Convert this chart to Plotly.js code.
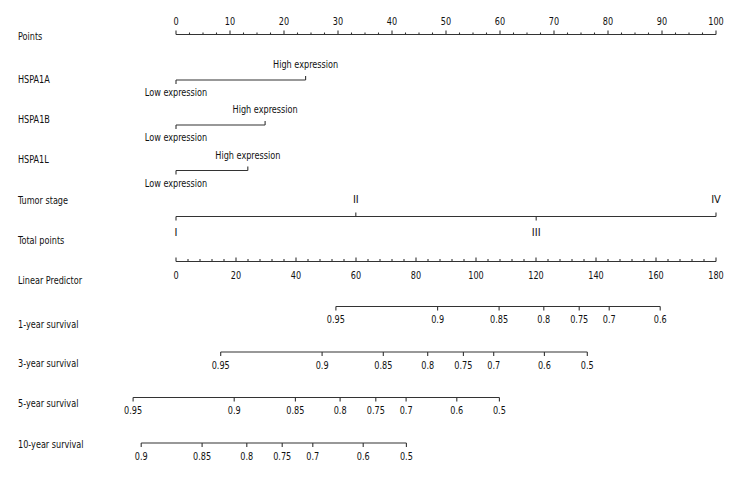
<!DOCTYPE html>
<html>
<head>
<meta charset="utf-8">
<script src="https://cdn.plot.ly/plotly-3.0.1.min.js"></script>
<style>
  html, body { margin: 0; padding: 0; background: #fff; }
  #chart { width: 744px; height: 480px; }
</style>
</head>
<body>
<div id="chart"></div>
<script>
// Nomogram: HSPA1A / HSPA1B / HSPA1L expression + tumor stage -> survival

// --- data ---
const pointsTicks = [0, 10, 20, 30, 40, 50, 60, 70, 80, 90, 100];
const expressionLevels = ['Low expression', 'High expression'];
const hspa1aPoints = [0, 24];
const hspa1bPoints = [0, 16.5];
const hspa1lPoints = [0, 13.3];
const tumorStages = ['I', 'II', 'III', 'IV'];
const tumorPoints = [0, 33.3, 66.7, 100];
const totalTicks = [0, 20, 40, 60, 80, 100, 120, 140, 160, 180];

const surv1Labels = ['0.95', '0.9', '0.85', '0.8', '0.75', '0.7', '0.6'];
const surv1Total = [53.3, 87.2, 107.7, 122.6, 134.4, 144.4, 161.4];
const surv3Labels = ['0.95', '0.9', '0.85', '0.8', '0.75', '0.7', '0.6', '0.5'];
const surv3Total = [14.9, 48.7, 69.1, 83.9, 95.8, 105.9, 122.8, 137.1];
const surv5Labels = ['0.95', '0.9', '0.85', '0.8', '0.75', '0.7', '0.6', '0.5'];
const surv5Total = [-14.3, 19.4, 39.8, 54.7, 66.6, 76.7, 93.6, 107.8];
const surv10Labels = ['0.9', '0.85', '0.8', '0.75', '0.7', '0.6', '0.5'];
const surv10Total = [-11.6, 8.7, 23.6, 35.4, 45.6, 62.4, 76.8];

const rowNames = ['Points', 'HSPA1A', 'HSPA1B', 'HSPA1L', 'Tumor stage', 'Total points',
                  'Linear Predictor', '1-year survival', '3-year survival', '5-year survival', '10-year survival'];

// --- layout constants (pixels) ---
const W = 744, H = 480;
const X0 = 176;                          // pixel of 0 on both scales
const PX_POINT = 5.4, PX_TOTAL = 3;      // pixels per unit
const rowLabelY = [37, 80, 120, 160, 201, 241.5, 281.5, 325, 364.5, 404.5, 445.5];
const axisY = [34.5, 80, 125, 170.5, 216.5, 261.5, 306.5, 352, 397.5, 443];
const LINE = '#333';
const TEXT = '#111';
const FONT = '"DejaVu Sans Condensed", "Liberation Sans Narrow", sans-serif';
const FS = 11;
const SQUEEZE = 0.82;                    // narrow the glyphs toward a condensed face

const traces = [];

function addLine(vals, y, xa) {
    traces.push({
        x: [Math.min(...vals), Math.max(...vals)], y: [y, y],
        xaxis: xa, yaxis: 'y', mode: 'lines', type: 'scatter',
        line: { color: LINE, width: 1.1 }, hoverinfo: 'skip', showlegend: false
    });
}

function addTicks(vals, y, lens, xa) {
    const x = [], yy = [];
    vals.forEach((v, i) => {
        const len = Array.isArray(lens) ? lens[i] : lens;
        x.push(v, v, null);
        yy.push(y, y + len, null);
    });
    traces.push({
        x: x, y: yy, xaxis: xa, yaxis: 'y', mode: 'lines', type: 'scatter',
        line: { color: LINE, width: 1.1 }, hoverinfo: 'skip', showlegend: false
    });
}

function addText(vals, labels, ys, xa, pos) {
    traces.push({
        x: vals, y: Array.isArray(ys) ? ys : vals.map(() => ys),
        text: labels, xaxis: xa, yaxis: 'y', mode: 'text', type: 'scatter',
        textposition: pos || 'middle center',
        textfont: { family: FONT, size: FS, color: TEXT },
        hoverinfo: 'skip', showlegend: false, cliponaxis: false
    });
}

// Points scale
const pointsMinor = [];
for (let i = 0; i < pointsTicks.length - 1; i++) {
    const a = pointsTicks[i], b = pointsTicks[i + 1];
    for (let k = 1; k < 4; k++) pointsMinor.push(a + (b - a) * k / 4);
}
addLine(pointsTicks, axisY[0], 'x');
addTicks(pointsTicks, axisY[0], -4, 'x');
addTicks(pointsMinor, axisY[0], -2, 'x');
addText(pointsTicks, pointsTicks.map(String), axisY[0] - 12, 'x');

// Binary expression variables: low tick/label below, high tick/label above
[hspa1aPoints, hspa1bPoints, hspa1lPoints].forEach((pts, r) => {
    const y = axisY[r + 1];
    addLine(pts, y, 'x');
    addTicks(pts, y, [4, -4], 'x');
    addText(pts, expressionLevels, [y + 13.5, y - 14.5], 'x');
});

// Tumor stage: alternating below/above
{
    const y = axisY[4];
    const dir = tumorPoints.map((_, i) => (i % 2 === 0 ? 1 : -1));
    addLine(tumorPoints, y, 'x');
    addTicks(tumorPoints, y, dir.map(d => d * 4), 'x');
    addText(tumorPoints, tumorStages, dir.map(d => y + d * 16.5), 'x');
}

// Total points scale (ticks up, labels below)
const totalMinor = [];
for (let i = 0; i < totalTicks.length - 1; i++) {
    const a = totalTicks[i], b = totalTicks[i + 1];
    for (let k = 1; k < 5; k++) totalMinor.push(a + (b - a) * k / 5);
}
addLine(totalTicks, axisY[5], 'x2');
addTicks(totalTicks, axisY[5], -4, 'x2');
addTicks(totalMinor, axisY[5], -2.5, 'x2');
addText(totalTicks, totalTicks.map(String), axisY[5] + 15, 'x2');

// Survival scales
[[surv1Total, surv1Labels], [surv3Total, surv3Labels],
 [surv5Total, surv5Labels], [surv10Total, surv10Labels]].forEach(([vals, labs], r) => {
    const y = axisY[r + 6];
    addLine(vals, y, 'x2');
    addTicks(vals, y, 4, 'x2');
    addText(vals, labs, y + 14, 'x2');
});

// Row labels, left aligned at 18px
const labelX = (18 - X0) / PX_POINT;
addText(rowNames.map(() => labelX), rowNames, rowLabelY, 'x', 'middle right');

const layout = {
    width: W, height: H,
    margin: { l: 0, r: 0, t: 0, b: 0 },
    paper_bgcolor: '#fff', plot_bgcolor: '#fff',
    xaxis: { range: [-X0 / PX_POINT, (W - X0) / PX_POINT], visible: false, fixedrange: true },
    xaxis2: { range: [-X0 / PX_TOTAL, (W - X0) / PX_TOTAL], overlaying: 'x', visible: false, fixedrange: true },
    yaxis: { range: [H, 0], visible: false, fixedrange: true },
    showlegend: false
};

Plotly.newPlot('chart', traces, layout, { displayModeBar: false, staticPlot: true }).then(gd => {
    // condense the glyphs in place (anchor stays put); skip the roman numerals
    gd.querySelectorAll('g.textpoint text').forEach(t => {
        if (tumorStages.includes(t.textContent)) return;
        const w = t.getComputedTextLength();
        if (w > 0) {
            t.setAttribute('textLength', (w * SQUEEZE).toFixed(1));
            t.setAttribute('lengthAdjust', 'spacingAndGlyphs');
        }
    });
});
</script>
</body>
</html>
